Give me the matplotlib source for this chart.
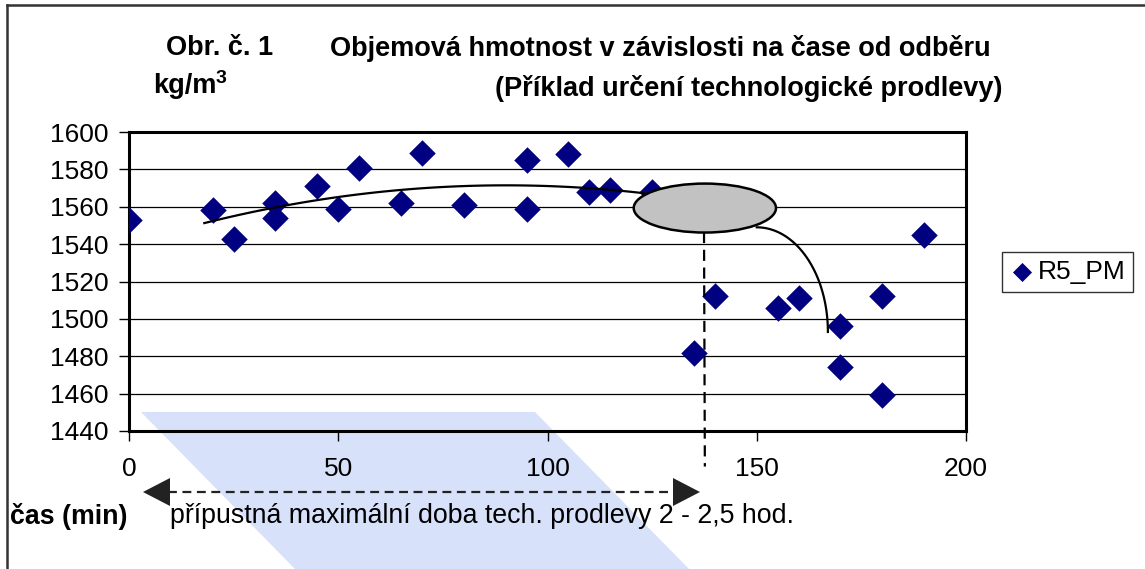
import numpy as np
import matplotlib
matplotlib.use("Agg")
import matplotlib.pyplot as plt
from matplotlib.patches import Ellipse, Polygon

plt.rcParams["font.family"] = ["Liberation Sans", "DejaVu Sans"]

# data (cas v min, objemova hmotnost kg/m3)
cas = [0, 20, 25, 35, 35, 45, 50, 55, 65, 70, 80, 95, 95, 105, 110, 115, 125,
       135, 140, 155, 160, 170, 170, 180, 180, 190]
hmotnost = [1553, 1558, 1543, 1562, 1554, 1571, 1559, 1581, 1562, 1589, 1561,
            1585, 1559, 1588, 1568, 1569, 1568,
            1482, 1512, 1506, 1511, 1496, 1474, 1512, 1459, 1545]
serie = "R5_PM"
x_ticks = [0, 50, 100, 150, 200]
y_ticks = list(range(1440, 1601, 20))

# hand drawn trend curve
trend_x = [18, 34, 55, 73, 95, 110, 123]
trend_y = [1551, 1560, 1566, 1570, 1572, 1570, 1567]

W, H = 1145, 569
fig = plt.figure(figsize=(W / 100, H / 100), dpi=100)


def fx(px):
    return px / W


def fy(py):
    return 1 - py / H


# watermark in background
fig.patches.append(Polygon([(fx(141), fy(412)), (fx(535), fy(412)), (fx(689), fy(569)),
                            (fx(295), fy(569))], closed=True, transform=fig.transFigure,
                           facecolor="#d7e1f9", edgecolor="none", zorder=-5))
# outer frame (left and top only visible)
fig.add_artist(plt.Line2D([fx(7), fx(7)], [fy(5), 0], transform=fig.transFigure,
                          color="#333333", lw=1.8))
fig.add_artist(plt.Line2D([fx(7), 1], [fy(5), fy(5)], transform=fig.transFigure,
                          color="#333333", lw=1.8))

ax = fig.add_axes([fx(129), fy(431), fx(966) - fx(129), fy(132) - fy(431)])
ax.set_facecolor("none")

ax.scatter(cas, hmotnost, marker="D", s=13.5 ** 2, color="#000080", zorder=3,
           linewidths=0, label=serie)

# trend line
p = np.polyfit(trend_x, trend_y, 2)
xt = np.linspace(trend_x[0], trend_x[-1], 100)
ax.plot(xt, np.polyval(p, xt), color="black", lw=1.6, zorder=4)

# ellipse marking the break point + falling branch
ax.add_patch(Ellipse((137.6, 1559.3), 34, 26.2, facecolor="#c2c2c2",
                     edgecolor="black", lw=1.8, zorder=5))
t = np.linspace(0, np.pi / 2, 60)
ax.plot(150 + 17 * np.cos(t), 1493 + 56 * np.sin(t), color="black", lw=1.6, zorder=4)
ax.plot([137.4, 137.6], [1546.5, 1421], color="black", lw=1.6, ls=(0, (5, 3)),
        clip_on=False, zorder=4)

ax.set_xlim(0, 200)
ax.set_ylim(1440, 1600)
ax.set_xticks(x_ticks)
ax.set_yticks(y_ticks)
ax.tick_params(axis="both", labelsize=19, length=7, width=1, color="black")
ax.tick_params(axis="x", pad=12)
ax.tick_params(axis="y", pad=8)
ax.grid(axis="y", color="black", lw=0.9)
ax.set_axisbelow(True)
for s in ax.spines.values():
    s.set_linewidth(2.2)
    s.set_color("black")

leg = ax.legend(loc="upper left", bbox_to_anchor=(fx(1002), fy(252)),
                bbox_transform=fig.transFigure, fontsize=19, frameon=True,
                fancybox=False, edgecolor="black", markerscale=0.72,
                handletextpad=0.15, borderpad=0.3, handlelength=0.9,
                borderaxespad=0)
leg.get_frame().set_linewidth(1.0)

# titles
fig.text(fx(166), fy(48), "Obr. č. 1", fontsize=19.5, fontweight="bold", va="center")
fig.text(fx(330), fy(48), "Objemová hmotnost v závislosti na čase od odběru",
         fontsize=19.5, fontweight="bold", va="center")
fig.text(fx(153), fy(93), "kg/m", fontsize=19.5, fontweight="bold", va="baseline")
fig.text(fx(216), fy(70), "3", fontsize=14, fontweight="bold", va="top")
fig.text(fx(495), fy(89), "(Příklad určení technologické prodlevy)",
         fontsize=19.5, fontweight="bold", va="center")

# arrow below the axis
ya = fy(492)
fig.add_artist(plt.Line2D([fx(168), fx(675)], [ya, ya], transform=fig.transFigure,
                          color="#222222", lw=1.6, ls=(0, (4, 2.5))))
for tip, base in [(143, 170), (700, 673)]:
    fig.patches.append(Polygon([(fx(tip), ya), (fx(base), fy(478)), (fx(base), fy(506))],
                               closed=True, transform=fig.transFigure,
                               facecolor="#222222", edgecolor="none"))

fig.text(fx(10), fy(516), "čas (min)", fontsize=19.3, fontweight="bold", va="center")
fig.text(fx(170), fy(516), "přípustná maximální doba tech. prodlevy 2 - 2,5 hod.",
         fontsize=19.3, va="center")

fig.savefig("out.png", dpi=100)
